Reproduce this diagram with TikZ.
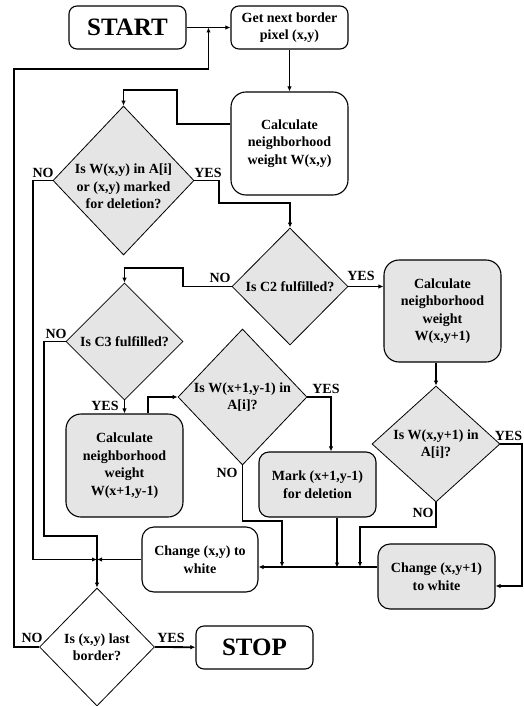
\documentclass[tikz,border=0pt]{standalone}
\usepackage{fontspec}
\setmainfont{Liberation Serif}
\usetikzlibrary{shapes.geometric,arrows.meta,calc}

\begin{document}
\begin{tikzpicture}[x=1pt,y=-1pt,>={Latex[length=5pt,width=4.5pt]},
	txt/.style={font=\fontsize{14}{17.5}\selectfont\bfseries, align=center},
	big/.style={font=\fontsize{25}{30}\selectfont\bfseries},
	box/.style={txt, draw, line width=1.1pt, rounded corners=8pt, minimum width=117pt, inner sep=0pt},
	gbox/.style={box, fill=gray!20},
	dec/.style={diamond, draw, line width=0.8pt, fill=gray!20, inner sep=0pt},
	dtext/.style={txt},
	lbl/.style={txt},
	conn/.style={line width=1.8pt, ->}]
	%\draw[help lines] (0,0) grid[step=50] (524,706);
	\useasboundingbox (0,0) rectangle (524,706);
	\node[box, big, minimum height=43pt] (start) at (127.5,27.5) {START};
	\node[box, minimum height=43pt] (get) at (289.5,27.5) {Get next border\\pixel (x,y)};
	\node[box, minimum height=103pt, rounded corners=15pt] (calc1) at (289.5,143.5) {Calculate\\neighborhood\\weight W(x,y)};
	\node[dec, minimum width=141pt, minimum height=149pt, label={[dtext,yshift=-6pt]center:{Is W(x,y) in A[i]\\or (x,y) marked\\for deletion?}}] (d1) at (123.5,180.5) {};
	\node[dec, minimum width=116pt, minimum height=117pt, label={[dtext]center:{Is C2 fulfilled?}}] (d2) at (290,286.5) {};
	\node[gbox, minimum height=102pt, rounded corners=15pt] (calc2) at (442.5,311) {Calculate\\neighborhood\\weight\\W(x,y+1)};
	\node[dec, minimum width=117pt, minimum height=117pt, label={[dtext]center:{Is C3 fulfilled?}}] (d3) at (124.5,341.5) {};
	\node[dec, minimum width=129pt, minimum height=136pt, label={[dtext]center:{Is W(x+1,y-1) in\\A[i]?}}] (d5) at (242.5,397) {};
	\node[dec, minimum width=128pt, minimum height=116pt, label={[dtext]center:{Is W(x,y+1) in\\A[i]?}}] (d4) at (436,444) {};
	\node[gbox, minimum height=103pt, rounded corners=15pt] (calc3) at (124.5,465.5) {Calculate\\neighborhood\\weight\\W(x+1,y-1)};
	\node[gbox, minimum height=65pt, rounded corners=10pt] (mark) at (317.5,484.5) {Mark (x+1,y-1)\\for deletion};
	\node[box, minimum height=65pt, rounded corners=12pt, minimum width=116pt] (chg1) at (200,559.5) {Change (x,y) to\\white};
	\node[gbox, minimum height=65pt, rounded corners=12pt] (chg2) at (436.5,576.5) {Change (x,y+1)\\to white};
	\node[dec, fill=white, minimum width=115pt, minimum height=118pt, label={[dtext]center:{Is (x,y) last\\border?}}] (d6) at (97,647) {};
	\node[box, big, minimum height=43pt] (stop) at (254.5,647.5) {STOP};

	\node[lbl] (d1no) at (43,173) {NO};
	\node[lbl] (d1yes) at (208,173) {YES};
	\node[lbl] (d2no) at (220,278) {NO};
	\node[lbl] (d2yes) at (361,276) {YES};
	\node[lbl] (d3no) at (56,334) {NO};
	\node[lbl] (d3yes) at (105,406) {YES};
	\node[lbl] (d5yes) at (326,389) {YES};
	\node[lbl] (d5no) at (227,473) {NO};
	\node[lbl] (d4yes) at (508.5,436) {YES};
	\node[lbl] (d4no) at (423,513) {NO};
	\node[lbl] (d6no) at (32,638) {NO};
	\node[lbl] (d6yes) at (171,638) {YES};

	\coordinate (m1) at (97,559.5);
	\coordinate (bus) at ([yshift=-7.5pt]chg1.east);
	\draw[conn] (start) -- (get);
	\draw[conn] (d6.west) -| (14,69) -| ($(start.east)!0.5!(get.west)$);
	\draw[conn] (get) -- (calc1);
	\draw[conn] ([yshift=19.5pt]calc1.west) -| (177,90) -| (d1.north);
	\draw[conn] (d1.west) -| (33,559.5) -- (m1);
	\draw[conn] (chg1.west) -- (m1);
	\draw[conn] (d3.west) -| (44,536) -| (d6.north);
	\draw[conn] (d1.east) -| (219,203) -| (d2.north);
	\draw[conn] (d2.west) -| (183,268) -| (d3.north);
	\draw[conn] (d2.east) -- (d2.east -| calc2.west);
	\draw[conn] (calc2.south -| d4.north) -- (d4.north);
	\draw[conn] (d4.east) -| (522,586) -- ([yshift=-9.5pt]chg2.east);
	\draw[conn] (d4.south) |- (360,527) -- (360,0 |- bus);
	\draw[conn] (chg2.west |- bus) -- (bus);
	\draw[conn] (d3.south) -- (d3.south |- calc3.north);
	\draw[conn] ([xshift=23.5pt]calc3.north) |- (d5.west);
	\draw[conn] (d5.east) -| ([xshift=13.5pt]mark.north);
	\draw[conn] ([xshift=19.5pt]mark.south) -- ++(0,50);
	\draw[conn] (d5.south) |- (282,521) -- (282,0 |- bus);
	\draw[conn] (d6.east) -- (stop);
\end{tikzpicture}
\end{document}
